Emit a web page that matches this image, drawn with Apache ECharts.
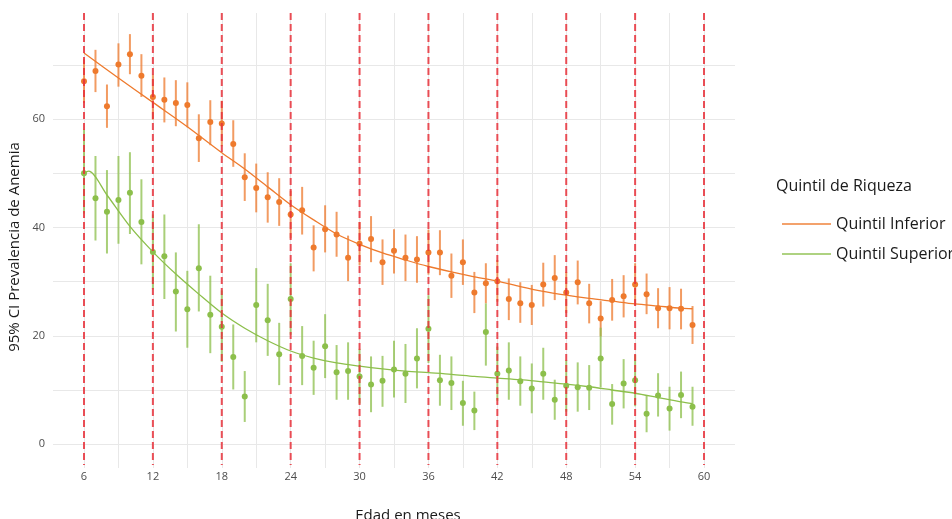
<!DOCTYPE html>
<html>
<head>
<meta charset="utf-8">
<script src="https://cdn.jsdelivr.net/npm/echarts@6/dist/echarts.min.js"></script>
<style>html,body{margin:0;padding:0;background:#fff}#c{width:952px;height:519px}</style>
</head>
<body>
<div id="c"></div>
<script>
const months = [6,7,8,9,10,11,12,13,14,15,16,17,18,19,20,21,22,23,24,25,26,27,28,29,30,31,32,33,34,35,36,37,38,39,40,41,42,43,44,45,46,47,48,49,50,51,52,53,54,55,56,57,58,59];

const inferiorValue = [67.0,68.9,62.4,70.1,72.0,68.0,64.1,63.6,63.0,62.6,56.5,59.5,59.2,55.4,49.3,47.3,45.6,44.7,42.4,43.2,36.3,39.7,38.7,34.4,37.0,37.9,33.6,35.7,34.4,34.1,35.4,35.4,31.1,33.6,28.0,29.7,30.1,26.8,26.0,25.7,29.5,30.7,28.0,29.9,26.0,23.2,26.6,27.3,29.5,27.7,25.1,25.1,25.0,22.0];
const inferiorLow = [63.0,65.0,58.4,66.0,68.3,64.1,59.9,59.4,58.7,58.5,52.1,55.2,55.0,51.2,44.9,42.8,40.9,40.3,38.0,38.7,31.9,35.4,34.6,30.1,33.0,33.6,29.4,31.5,30.1,29.8,31.3,31.2,27.0,29.4,24.2,26.0,26.3,22.9,22.4,22.0,25.4,26.6,24.2,25.8,22.3,19.9,22.8,23.4,25.6,24.0,21.4,21.2,21.2,18.5];
const inferiorHigh = [71.0,72.8,66.4,74.0,75.7,72.0,68.2,67.7,67.2,66.8,60.9,63.5,63.4,59.8,53.7,51.8,50.2,49.1,46.8,47.5,40.4,44.1,42.9,38.5,41.0,42.1,37.8,39.7,38.7,38.4,39.6,39.5,35.2,37.8,31.8,33.4,34.0,30.6,29.9,29.4,33.5,34.9,31.8,33.9,29.6,26.4,30.5,31.2,33.4,31.5,28.8,29.0,28.7,25.5];

const superiorValue = [50.0,45.4,42.9,45.1,46.4,41.0,35.5,34.7,28.2,24.9,32.5,23.9,21.7,16.1,8.8,25.7,22.9,16.6,26.8,16.3,14.1,18.1,13.3,13.5,12.5,11.0,11.7,13.8,13.0,15.8,21.3,11.8,11.3,7.6,6.2,20.7,13.0,13.6,11.6,10.3,13.0,8.2,10.8,10.5,10.4,15.8,7.4,11.2,11.8,5.6,9.0,6.6,9.1,6.9];
const superiorLow = [42.6,37.6,35.2,37.0,38.8,33.2,28.6,26.8,20.8,17.8,24.5,16.8,15.2,10.1,4.1,18.8,16.3,10.9,20.2,10.9,9.1,12.2,8.2,8.2,7.5,5.9,6.9,8.6,7.6,10.3,15.0,7.1,6.3,3.4,2.6,14.5,8.0,8.2,7.1,5.7,8.2,4.5,6.0,6.0,6.3,10.5,3.6,6.6,7.0,2.2,5.1,2.5,4.8,3.4];
const superiorHigh = [58.1,53.2,50.6,53.2,53.9,48.9,42.4,42.4,35.4,32.0,40.6,31.1,28.4,22.1,13.5,32.5,29.6,22.4,33.4,21.8,19.1,24.0,18.3,18.8,17.6,16.2,16.3,19.1,18.5,21.4,27.5,16.5,16.2,11.7,9.7,26.0,18.0,18.8,16.2,14.9,17.8,11.9,15.5,15.1,14.6,21.5,11.1,15.7,16.5,8.9,13.1,10.6,13.4,10.6];

const inferiorTrendX = [6,9,12,15,18,20,22,24,26,28,30,32,34,36,38,40,42,44,46,48,50,52,54,56,58,59];
const inferiorTrend = [72.2,67.6,63.1,58.6,53.8,50.8,47.5,44.2,41.4,38.8,36.9,35.3,34.0,32.8,31.8,30.9,30.1,29.1,28.2,27.5,26.9,26.4,25.9,25.5,25.1,25.0];
const superiorTrendX = [6,6.4,8,10,12,14,16,18,20,22,24,26,28,30,32,34,36,38,40,42,44,46,48,50,52,54,56,58,59];
const superiorTrend = [50.0,50.4,46.0,40.2,35.5,31.4,27.7,24.2,21.4,19.1,17.2,15.9,15.0,14.4,13.9,13.5,13.2,12.9,12.5,12.2,11.9,11.5,11.1,10.6,10.0,9.4,8.6,7.8,7.5];

const cutMonths = [6,12,18,24,30,36,42,48,54,60];
const xTicks = [6,9,12,15,18,21,24,27,30,33,36,39,42,45,48,51,54,57,60];
const xLabels = [6,12,18,24,30,36,42,48,54,60];
const yTicks = [0,10,20,30,40,50,60,70];
const yLabels = [0,20,40,60];

const seriesNames = ['Quintil Inferior','Quintil Superior'];
const legendTitle = 'Quintil de Riqueza';
const xTitle = 'Edad en meses';
const yTitle = '95% CI Prevalencia de Anemia';

const ORANGE = '#EE7A2D';
const GREEN = '#8CBF4B';
const FONT = '"Open Sans", "Noto Sans", sans-serif';
const X_MIN = 3.3, X_MAX = 62.7, Y_MIN = -4.4, Y_MAX = 79.6;

function zip3(a,b,c){ return a.map((v,i)=>[v,b[i],c[i]]); }
function zip2(a,b){ return a.map((v,i)=>[v,b[i]]); }

function errRender(color){
  return function(params, api){
    const x = api.value(0);
    const p1 = api.coord([x, api.value(1)]);
    const p2 = api.coord([x, api.value(2)]);
    return {type:'line', shape:{x1:p1[0],y1:p1[1],x2:p2[0],y2:p2[1]},
      style:{stroke:color, lineWidth:2, opacity:0.75}};
  };
}

const chart = echarts.init(document.getElementById('c'), null, {renderer:'canvas'});
chart.setOption({
  animation:false,
  backgroundColor:'#fff',
  textStyle:{fontFamily:FONT},
  grid:{left:53, right:217, top:13, bottom:51, containLabel:false},
  xAxis:{type:'value', min:X_MIN, max:X_MAX,
    axisLine:{show:false},
    axisTick:{show:false, customValues:xTicks},
    axisLabel:{customValues:xLabels, color:'#4D4D4D', fontSize:11, margin:3, fontFamily:FONT},
    splitLine:{show:true, lineStyle:{color:'#E8E8E8', width:1}}
  },
  yAxis:{type:'value', min:Y_MIN, max:Y_MAX,
    axisLine:{show:false},
    axisTick:{show:false, customValues:yTicks},
    axisLabel:{customValues:yLabels, color:'#4D4D4D', fontSize:11, margin:8, fontFamily:FONT},
    splitLine:{show:true, lineStyle:{color:'#E8E8E8', width:1}}
  },
  legend:{
    orient:'vertical', left:777, top:211, itemWidth:49, itemHeight:2, itemGap:14,
    icon:'rect',
    data:seriesNames,
    itemStyle:{opacity:0.7},
    textStyle:{fontSize:16, color:'#1A1A1A', fontFamily:FONT}
  },
  graphic:[
    {type:'text', left:776, top:178, style:{text:legendTitle, font:'16px '+FONT, fill:'#1A1A1A'}},
    {type:'text', x:408, y:516, style:{text:xTitle, font:'15px '+FONT, fill:'#1A1A1A', align:'center', verticalAlign:'middle'}},
    {type:'text', x:15, y:247, rotation:Math.PI/2, style:{text:yTitle, font:'15px '+FONT, fill:'#1A1A1A', align:'center', verticalAlign:'middle'}}
  ],
  series:[
    {name:'ci_inf', type:'custom', z:2, renderItem:errRender(ORANGE), data:zip3(months, inferiorLow, inferiorHigh), encode:{x:0,y:[1,2]}, silent:true},
    {name:'ci_sup', type:'custom', z:2, renderItem:errRender(GREEN), data:zip3(months, superiorLow, superiorHigh), encode:{x:0,y:[1,2]}, silent:true},
    {name:'pt_inf', type:'scatter', z:3, symbolSize:6, itemStyle:{color:ORANGE, opacity:1}, data:zip2(months, inferiorValue), silent:true},
    {name:'pt_sup', type:'scatter', z:3, symbolSize:6, itemStyle:{color:GREEN, opacity:1}, data:zip2(months, superiorValue), silent:true},
    {name:seriesNames[0], type:'line', z:4, symbol:'none', smooth:0.3, color:ORANGE, lineStyle:{color:ORANGE, width:1.3}, data:zip2(inferiorTrendX, inferiorTrend), silent:true},
    {name:seriesNames[1], type:'line', z:4, symbol:'none', smooth:0.3, color:GREEN, lineStyle:{color:GREEN, width:1.3}, data:zip2(superiorTrendX, superiorTrend), silent:true},
    {name:'cuts', type:'custom', z:5, silent:true, data:cutMonths.map(m=>[m]), encode:{x:0},
      renderItem:function(params, api){
        const x = api.value(0);
        const p1 = api.coord([x, Y_MAX]);
        const p2 = api.coord([x, Y_MIN]);
        return {type:'line', shape:{x1:p1[0],y1:p1[1],x2:p2[0],y2:p2[1]-3},
          style:{stroke:'#E8303A', lineWidth:2, lineDash:[7,4], opacity:0.85}};
      }}
  ]
});
</script>
</body>
</html>
